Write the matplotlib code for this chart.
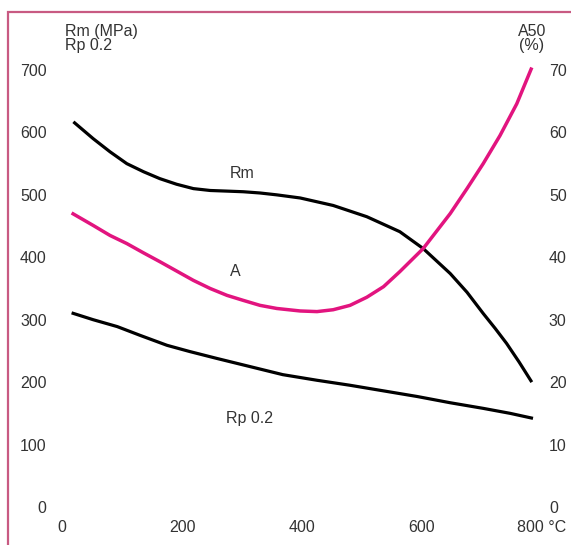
import matplotlib
matplotlib.use("Agg")
import matplotlib.pyplot as plt
from matplotlib.patches import Rectangle

plt.rcParams['font.family'] = ['Liberation Sans', 'DejaVu Sans']

# Tensile strength Rm (MPa) vs temperature (°C)
rm_temp = [19, 52, 80, 108, 136, 163, 191, 219, 247, 275, 302, 330, 358, 397,
           452, 508, 563, 602, 647, 675, 702, 722, 741, 762, 783]
rm_val = [617, 590, 569, 550, 537, 526, 517, 510, 507, 506, 505, 503, 500, 495,
          483, 465, 441, 414, 374, 344, 310, 286, 262, 232, 200]

# Yield strength Rp 0.2 (MPa)
rp_temp = [16, 52, 92, 130, 175, 213, 258, 313, 368, 425, 480, 536, 592, 647,
           702, 747, 785]
rp_val = [311, 300, 289, 275, 259, 249, 238, 225, 212, 203, 195, 186, 177, 167,
          158, 150, 142]

# Elongation A50 (%)
a_temp = [16, 52, 80, 108, 136, 163, 191, 219, 247, 275, 302, 330, 358, 397, 425,
          452, 480, 508, 536, 563, 602, 647, 675, 702, 730, 758, 783]
a_val = [47.1, 45.1, 43.5, 42.2, 40.7, 39.3, 37.8, 36.3, 35.0, 33.9, 33.1, 32.3,
         31.8, 31.4, 31.3, 31.6, 32.3, 33.6, 35.3, 37.7, 41.4, 47.0, 51.0, 55.0,
         59.5, 64.6, 70.4]

x_ticks = [0, 200, 400, 600, 800]
x_labels = ['0', '200', '400', '600', '800 °C']
left_ticks = [0, 100, 200, 300, 400, 500, 600, 700]
right_ticks = [0, 10, 20, 30, 40, 50, 60, 70]

W, H = 571, 545
txt = '#333333'
pink = '#e2147f'
fs = 11.5

fig = plt.figure(figsize=(W / 100, H / 100), dpi=100)
# pink frame (only left and top edges are visible in the picture)
fig.patches.append(Rectangle((8 / W, -0.1), 2, 1.1 - 12 / H, transform=fig.transFigure,
                             fill=False, edgecolor='#c85a82', linewidth=1.6))

ax = fig.add_axes([62 / W, 1 - 507 / H, (542 - 62) / W, (507 - 70) / H])
ax2 = ax.twinx()

ax.plot(rm_temp, rm_val, color='black', lw=2.3, clip_on=False, solid_capstyle='butt')
ax.plot(rp_temp, rp_val, color='black', lw=2.3, clip_on=False, solid_capstyle='butt')
ax2.plot(a_temp, a_val, color=pink, lw=2.5, clip_on=False, solid_capstyle='butt')

ax.set_xlim(0, 800)
ax.set_ylim(0, 700)
ax2.set_ylim(0, 70)

ax.set_xticks(x_ticks, x_labels)
ax.set_yticks(left_ticks)
ax2.set_yticks(right_ticks)

for a in (ax, ax2):
    for s in a.spines.values():
        s.set_visible(False)
ax.tick_params(axis='x', length=0, pad=9, labelsize=fs, labelcolor=txt)
ax.tick_params(axis='y', length=0, pad=11, labelsize=fs, labelcolor=txt)
ax2.tick_params(axis='y', length=0, pad=5, labelsize=fs, labelcolor=txt)

fig.text(65 / W, 1 - 24 / H, 'Rm (MPa)\nRp 0.2', fontsize=fs, color=txt,
         va='top', ha='left', linespacing=0.9)
fig.text(532 / W, 1 - 24 / H, 'A50\n(%)', fontsize=fs, color=txt,
         va='top', ha='center', linespacing=0.9, multialignment='center')

fig.text(242 / W, 1 - 173 / H, 'Rm', fontsize=fs, color=txt, va='center', ha='center')
fig.text(235 / W, 1 - 272 / H, 'A', fontsize=fs, color=txt, va='center', ha='center')
fig.text(249 / W, 1 - 418 / H, 'Rp 0.2', fontsize=fs, color=txt, va='center', ha='center')

fig.savefig('out.png', dpi=100)
